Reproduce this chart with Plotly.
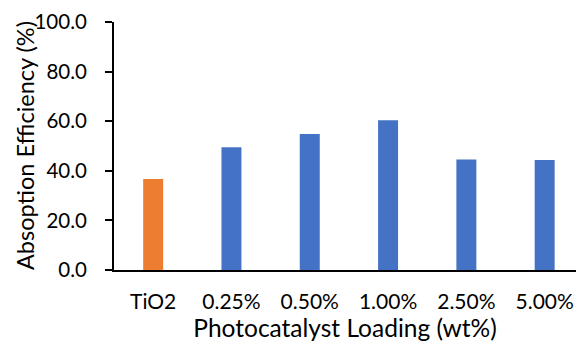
import plotly.graph_objects as go

categories = ["TiO2", "0.25%", "0.50%", "1.00%", "2.50%", "5.00%"]
values = [36.7, 49.5, 54.8, 60.4, 44.6, 44.4]
bar_colors = ["#ED7D31", "#4472C4", "#4472C4", "#4472C4", "#4472C4", "#4472C4"]
y_ticks = [0, 20, 40, 60, 80, 100]

FONT = "Lato"

fig = go.Figure(go.Bar(
    x=list(range(len(categories))),
    y=values,
    marker=dict(color=bar_colors, line=dict(width=0)),
    width=0.255,
))

fig.update_layout(
    width=576, height=344,
    margin=dict(l=114, r=0, t=22, b=74),
    paper_bgcolor="white", plot_bgcolor="white",
    showlegend=False,
    font=dict(family=FONT, color="#000000", size=20),
    annotations=[dict(
        text="Absoption Efficiency (%)", textangle=-90,
        xref="paper", yref="paper", x=0, y=0.5,
        xanchor="center", yanchor="middle", xshift=-89,
        showarrow=False, font=dict(family=FONT, size=23.5, color="#000000"),
    )],
)

fig.update_xaxes(
    range=[-0.5, 5.4],
    tickmode="array", tickvals=list(range(len(categories))), ticktext=categories,
    showline=True, linecolor="#000000", linewidth=2,
    ticks="", showgrid=False, zeroline=False,
    ticklabelstandoff=12,
    tickfont=dict(family=FONT, size=21),
    title=dict(text="Photocatalyst Loading (wt%)", font=dict(family=FONT, size=24.5), standoff=4),
)
fig.update_yaxes(
    range=[0, 100],
    tickmode="array", tickvals=y_ticks, ticktext=[f"{v:.1f}" for v in y_ticks],
    showline=True, linecolor="#000000", linewidth=2,
    ticks="outside", ticklen=7, tickwidth=2, tickcolor="#000000",
    ticklabelstandoff=14,
    showgrid=False, zeroline=False,
    tickfont=dict(family=FONT, size=20.5),
)

fig.write_html("out.html")
